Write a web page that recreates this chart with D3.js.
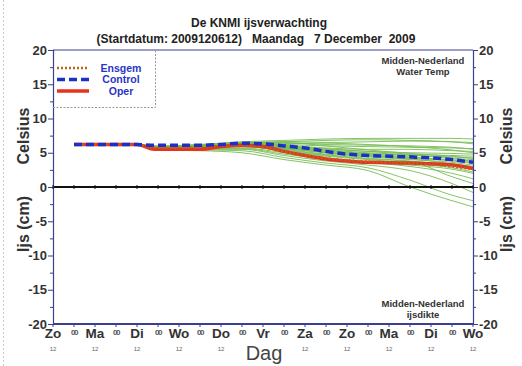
<!DOCTYPE html>
<html><head><meta charset="utf-8">
<script src="https://cdn.jsdelivr.net/npm/d3@7"></script>
<style>
body{margin:0;background:#fff;}
svg{display:block;font-family:"Liberation Sans",Arial,sans-serif;}
</style></head><body>
<svg id="c" width="522" height="366"></svg>
<script>
// ---- data ----
const dayLabels = ["Zo","Ma","Di","Wo","Do","Vr","Za","Zo","Ma","Di","Wo"];
const yTicks = [-20,-15,-10,-5,0,5,10,15,20];
const memberHours = [12,48,60,84,108,132,156,180,204,228,240];
const members = [
 [6.2,6.2,6.0,6.2,6.6,6.8,7.0,7.1,7.1,7.1,7.0],
 [6.2,6.2,5.9,6.1,6.5,6.6,6.5,6.6,6.7,6.6,6.5],
 [6.2,6.2,5.8,6.0,6.3,6.2,6.0,5.9,5.8,5.7,5.6],
 [6.2,6.2,5.7,5.9,6.2,5.9,5.5,5.2,5.0,4.9,4.8],
 [6.2,6.2,5.6,5.8,6.0,5.6,5.0,4.6,4.3,4.0,3.8],
 [6.2,6.2,5.6,5.7,5.9,5.4,4.7,4.2,3.8,3.2,2.8],
 [6.2,6.2,5.5,5.6,5.7,5.0,4.2,3.6,3.0,2.0,1.2],
 [6.2,6.2,5.5,5.5,5.5,4.6,3.8,3.2,2.4,0.5,-0.8],
 [6.2,6.2,5.4,5.4,5.3,4.3,3.5,2.8,1.0,-1.2,-2.0],
 [6.2,6.2,5.4,5.3,5.0,4.0,3.2,2.4,0.0,-2.0,-2.9],
 [6.2,6.2,5.9,6.2,6.4,6.4,6.2,6.1,6.0,5.8,5.5],
 [6.2,6.2,5.8,6.1,6.4,6.1,5.7,5.5,5.5,5.3,5.2],
 [6.2,6.2,5.7,6.0,6.2,5.8,5.3,4.9,4.6,4.4,4.2],
 [6.2,6.2,5.7,5.9,6.1,5.7,5.2,4.8,4.4,3.8,3.5],
 [6.2,6.2,5.6,5.8,6.0,5.5,4.8,4.4,4.0,3.6,3.2],
 [6.2,6.2,5.8,6.0,6.3,6.3,6.4,6.2,5.9,5.4,5.0],
 [6.2,6.2,5.9,6.1,6.5,6.5,6.0,5.4,4.9,4.5,4.2],
 [6.2,6.2,5.8,5.9,6.0,5.2,4.5,4.0,3.5,2.8,2.2],
 [6.2,6.2,5.6,5.6,5.6,4.8,4.1,3.6,3.2,2.6,2.0],
 [6.2,6.2,5.7,5.8,5.9,5.3,4.6,4.1,3.7,1.5,0.5],
 [6.2,6.2,5.9,6.1,6.4,6.6,6.8,6.9,6.8,6.6,6.3],
 [6.2,6.2,5.8,6.0,6.3,6.0,5.6,5.2,4.8,4.6,4.5],
 [6.2,6.2,5.7,5.9,6.1,5.6,5.1,4.7,4.2,3.9,3.7],
 [6.2,6.2,5.6,5.8,6.1,5.9,5.4,5.0,4.7,4.2,4.0],
 [6.2,6.2,5.8,6.0,6.2,5.7,5.0,4.5,4.1,3.4,3.0]
];
const lineHours = [12,48,58,84,96,108,120,132,144,156,168,180,204,228,240];
const oper    = [6.2,6.2,5.5,5.5,5.9,6.1,5.9,5.2,4.6,4.1,3.8,3.6,3.5,3.2,2.7];
const ensgem  = [6.2,6.2,5.7,5.8,6.0,6.0,5.8,5.2,4.6,4.2,3.9,3.7,3.5,3.0,2.6];
const control = [6.2,6.2,6.1,6.1,6.2,6.4,6.3,6.0,5.7,5.2,4.8,4.6,4.4,4.0,3.6];
const legendNames = ["Ensgem","Control","Oper"];

// ---- drawing ----
const svg = d3.select("#c");
const x = d3.scaleLinear().domain([0,240]).range([53,473]);
const y = d3.scaleLinear().domain([-20,20]).range([324,50]);
const navy = "#3a3f8f";

// faint left page edge
svg.append("line").attr("x1",3.5).attr("x2",3.5).attr("y1",0).attr("y2",366)
  .attr("stroke","#ccc").attr("stroke-dasharray","2,2");

// title
svg.append("text").attr("x",259).attr("y",27).attr("text-anchor","middle")
  .attr("font-size",12).attr("font-weight","bold").attr("fill","#222").text("De KNMI ijsverwachting");
svg.append("text").attr("x",256).attr("y",43).attr("text-anchor","middle")
  .attr("font-size",12).attr("font-weight","bold").attr("fill","#222")
  .style("white-space","pre").text("(Startdatum: 2009120612)   Maandag   7 December  2009");

// ensemble members
const line = d3.line().curve(d3.curveMonotoneX);
const g = svg.append("g");
members.forEach(m=>{
  g.append("path").attr("d", line(m.map((v,i)=>[x(memberHours[i]), y(v)])))
   .attr("fill","none").attr("stroke","#78bd55").attr("stroke-width",1).attr("opacity",0.9);
});

// zero line
svg.append("line").attr("x1",x(0)).attr("x2",x(240)).attr("y1",y(0)).attr("y2",y(0))
  .attr("stroke","#111").attr("stroke-width",2);

const mk = arr => line(arr.map((v,i)=>[x(lineHours[i]), y(v)]));
svg.append("path").attr("d",mk(oper)).attr("fill","none").attr("stroke","#e8321e").attr("stroke-width",3.5);
svg.append("path").attr("d",mk(ensgem)).attr("fill","none").attr("stroke","#b8641c").attr("stroke-width",2.5).attr("stroke-dasharray","2,2");
svg.append("path").attr("d",mk(control)).attr("fill","none").attr("stroke","#1c30c8").attr("stroke-width",3.5).attr("stroke-dasharray","8,4");

// frame
svg.append("line").attr("x1",x(0)).attr("x2",x(240)).attr("y1",y(20)).attr("y2",y(20)).attr("stroke",navy).attr("stroke-width",1.2);
svg.append("line").attr("x1",x(0)).attr("x2",x(240)).attr("y1",y(-20)).attr("y2",y(-20)).attr("stroke",navy).attr("stroke-width",2.2);

// y axes
function yAxis(isLeft){
  const ax = (isLeft?d3.axisLeft(y):d3.axisRight(y)).tickValues(yTicks).tickSize(5).tickPadding(1)
    .tickFormat(d=>String(d));
  const gg = svg.append("g").attr("transform",`translate(${isLeft?x(0):x(240)},0)`).call(ax);
  gg.select(".domain").attr("stroke",navy).attr("stroke-width",1.2);
  gg.selectAll(".tick line").attr("stroke",navy);
  gg.selectAll(".tick text").attr("font-size",13).attr("font-weight","bold").attr("fill","#333")
    .attr("font-family","Liberation Sans, Arial, sans-serif");
  const minor = (isLeft?d3.axisLeft(y):d3.axisRight(y))
    .tickValues(d3.range(-17.5,20,5)).tickSize(3).tickFormat("");
  const gm = svg.append("g").attr("transform",`translate(${isLeft?x(0):x(240)},0)`).call(minor);
  gm.select(".domain").remove();
  gm.selectAll(".tick line").attr("stroke",navy);
}
yAxis(true); yAxis(false);

// axis titles
[24,507].forEach(cx=>{
  svg.append("text").attr("transform",`translate(${cx+5},136) rotate(-90)`).attr("text-anchor","middle")
    .attr("font-size",16).attr("font-weight","bold").attr("fill","#333").text("Celsius");
  svg.append("text").attr("transform",`translate(${cx+5},224) rotate(-90)`).attr("text-anchor","middle")
    .attr("font-size",16).attr("font-weight","bold").attr("fill","#333").text("Ijs (cm)");
});

// x axis labels
const xt = svg.append("g");
d3.range(0,241,12).forEach((h,i)=>{
  xt.append("line").attr("x1",x(h)).attr("x2",x(h)).attr("y1",y(-20)).attr("y2",y(-20)+3).attr("stroke",navy);
  xt.append("line").attr("x1",x(h)).attr("x2",x(h)).attr("y1",y(0)-2).attr("y2",y(0)+2).attr("stroke","#111");
  if(i%2===0){
    xt.append("text").attr("x",x(h)).attr("y",338).attr("text-anchor","middle")
      .attr("font-size",13.5).attr("font-weight","bold").attr("fill","#333").text(dayLabels[i/2]);
    if(h!==120){
      xt.append("text").attr("x",x(h)).attr("y",351).attr("text-anchor","middle")
        .attr("font-size",6).attr("fill","#666").text("12");
    }
  } else {
    xt.append("text").attr("x",x(h)).attr("y",335).attr("text-anchor","middle")
      .attr("font-size",8).attr("font-weight","bold").attr("letter-spacing",-1.5).attr("fill","#555").text("00");
  }
});
svg.append("text").attr("x",x(120)+1).attr("y",360).attr("text-anchor","middle")
  .attr("font-size",20).attr("fill","#444").text("Dag");

// region labels
[["Midden-Nederland",64],["Water Temp",75],["Midden-Nederland",307],["ijsdikte",318]].forEach(([t,yy])=>{
  svg.append("text").attr("x",423).attr("y",yy).attr("text-anchor","middle")
    .attr("font-size",9.5).attr("font-weight","bold").attr("fill","#333").text(t);
});

// legend
const lg = svg.append("g");
lg.append("path").attr("d",`M${x(0)},107.5H155.5V50`).attr("fill","none")
  .attr("stroke","#999").attr("stroke-dasharray","2,1.5");
const styles = [
  {stroke:"#b8641c",w:2.5,dash:"2,2"},
  {stroke:"#1c30c8",w:3.5,dash:"8,4"},
  {stroke:"#e8321e",w:3.5,dash:null}
];
legendNames.forEach((n,i)=>{
  const yy = 68 + i*11.5;
  lg.append("line").attr("x1",57).attr("x2",89).attr("y1",yy).attr("y2",yy)
    .attr("stroke",styles[i].stroke).attr("stroke-width",styles[i].w).attr("stroke-dasharray",styles[i].dash);
  lg.append("text").attr("x",121).attr("y",yy+3.5).attr("text-anchor","middle")
    .attr("font-size",10.5).attr("font-weight","bold").attr("fill","#2a35c8").text(n);
});
</script>
</body></html>
